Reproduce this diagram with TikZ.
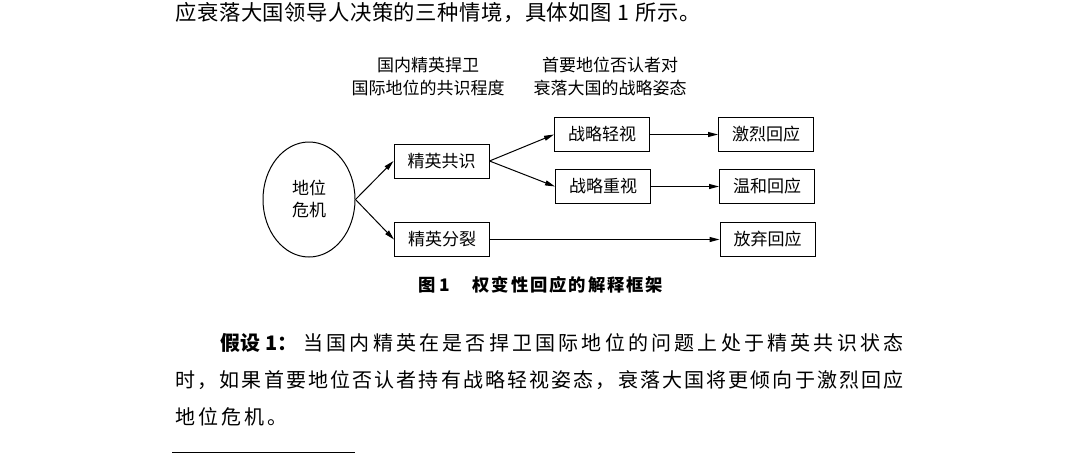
\documentclass[tikz,border=0pt]{standalone}
\usepackage{fontspec}
\setmainfont{Noto Sans CJK SC}
\usetikzlibrary{arrows.meta,shapes.geometric}

% even tracking for a line of characters
\def\spreadchars#1{\spreadfirst#1\relax}
\def\spreadfirst#1{#1\spreadloop}
\def\spreadloop#1{\ifx#1\relax\else\hfil#1\expandafter\spreadloop\fi}

\tikzset{every picture/.style={line width=0.75pt}}
\tikzset{
	stagebox/.style={draw, minimum width=71.25pt, minimum height=25.5pt, inner sep=0.75pt, font=\fontsize{12.75}{15}\selectfont},
	flow/.style={-{Triangle[length=7.5pt,width=3.75pt]}},
	bodytext/.style={anchor=west, inner sep=0pt, font=\fontsize{15}{18}\selectfont},
}

\begin{document}
\begin{tikzpicture}[x=0.75pt,y=0.75pt,yscale=-1,xscale=1]
	%set diagram left start at 0, and has height of 460
	\path (0,0) rectangle (1080,460);
	
	% Text Node
	\node [anchor=west, inner sep=0pt, font=\fontsize{16}{18}\selectfont] (leadline) at (175,13) {\makebox[393.75pt][s]{\spreadchars{应衰落大国领导人决策的三种情境，具体如图\ 1\ 所示。}}};
	
	% Text Node
	\node [align=center, font=\fontsize{12.75}{17.25}\selectfont] (rankhead) at (428,76.5) {国内精英捍卫\\国际地位的共识程度};
	% Text Node
	\node [align=center, font=\fontsize{12.75}{17.25}\selectfont] (posturehead) at (610,76.5) {首要地位否认者对\\衰落大国的战略姿态};
	
	%Shape: Ellipse
	\node [ellipse, draw, minimum width=69pt, minimum height=86.25pt, inner sep=0pt, align=center, font=\fontsize{12.75}{16.5}\selectfont] (crisis) at (309,199.5) {地位\\危机};
	
	%Shape: Rectangle
	\node [stagebox] (consensus) at (441.5,161) {精英共识};
	%Shape: Rectangle
	\node [stagebox] (split) at (442,239.5) {精英分裂};
	%Shape: Rectangle
	\node [stagebox] (slight) at (602,134.5) {战略轻视};
	%Shape: Rectangle
	\node [stagebox] (heed) at (603,186.5) {战略重视};
	%Shape: Rectangle
	\node [stagebox] (fierce) at (766,134.5) {激烈回应};
	%Shape: Rectangle
	\node [stagebox] (mild) at (767,186.5) {温和回应};
	%Shape: Rectangle
	\node [stagebox] (abandon) at (767.5,239.5) {放弃回应};
	
	%Straight Lines
	\draw [flow] (crisis.east) -- (consensus.west);
	\draw [flow] (crisis.east) -- (split.west);
	\draw [flow] (consensus.east) -- (slight.west);
	\draw [flow] (consensus.east) -- (heed.west);
	\draw [flow] (slight.east) -- (fierce.west);
	\draw [flow] (heed.east) -- (mild.west);
	\draw [flow] (split.east) -- (abandon.west);
	
	% Text Node
	\node [anchor=west, inner sep=0pt, font=\bfseries\fontsize{13}{15}\selectfont] (figno) at (418,285) {图 1};
	% Text Node
	\node [anchor=west, inner sep=0pt, font=\bfseries\fontsize{13}{15}\selectfont] (figtitle) at (472,285) {\makebox[143pt][s]{\spreadchars{权变性回应的解释框架}}};
	
	% Text Node
	\node [bodytext, font=\bfseries\fontsize{15}{18}\selectfont] (hyplabel) at (220,343) {假设 1：};
	% Text Node
	\node [bodytext] (hypone) at (303,343) {\makebox[450pt][s]{\spreadchars{当国内精英在是否捍卫国际地位的问题上处于精英共识状态}}};
	% Text Node
	\node [bodytext] (hyptwo) at (175,380) {\makebox[546pt][s]{\spreadchars{时，如果首要地位否认者持有战略轻视姿态，衰落大国将更倾向于激烈回应}}};
	% Text Node
	\node [bodytext] (hypthree) at (175,417) {\makebox[84pt][s]{\spreadchars{地位危机。}}};
	
	%Straight Lines
	\draw [line width=0.5pt] (172,452) -- (355,452);
	
\end{tikzpicture}
\end{document}
